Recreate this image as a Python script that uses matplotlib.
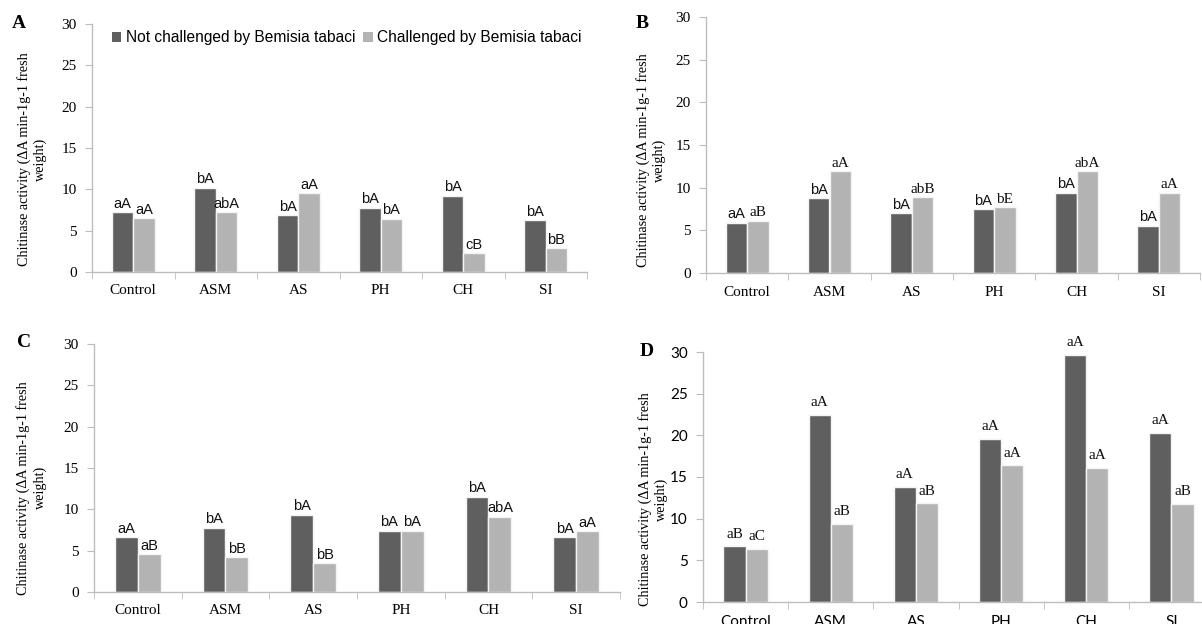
'''
Chitinase activity bar charts, four panels (A-D)
'''

import numpy as np
import matplotlib
matplotlib.use('Agg')
from matplotlib import pyplot as plt
from matplotlib.patches import Patch

# Treatments on the x axis
categories = ['Control', 'ASM', 'AS', 'PH', 'CH', 'SI']

# Panel A
aNot = [7.2, 10.2, 6.85, 7.8, 9.25, 6.3]
aChal = [6.5, 7.2, 9.55, 6.45, 2.3, 2.9]
aNotLabels = ['aA', 'bA', 'bA', 'bA', 'bA', 'bA']
aChalLabels = ['aA', 'abA', 'aA', 'bA', 'cB', 'bB']

# Panel B
bNot = [5.9, 8.75, 7.0, 7.5, 9.4, 5.55]
bChal = [6.15, 11.9, 8.9, 7.7, 11.9, 9.4]
bNotLabels = ['aA', 'bA', 'bA', 'bA', 'bA', 'bA']
bChalLabels = ['aB', 'aA', 'abB', 'bE', 'abA', 'aA']

# Panel C
cNot = [6.65, 7.8, 9.35, 7.4, 11.55, 6.6]
cChal = [4.6, 4.2, 3.45, 7.4, 9.1, 7.35]
cNotLabels = ['aA', 'bA', 'bA', 'bA', 'bA', 'bA']
cChalLabels = ['aB', 'bB', 'bB', 'bA', 'abA', 'aA']

# Panel D
dNot = [6.7, 22.5, 13.8, 19.6, 29.7, 20.3]
dChal = [6.4, 9.4, 11.85, 16.4, 16.1, 11.8]
dNotLabels = ['aB', 'aA', 'aA', 'aA', 'aA', 'aA']
dChalLabels = ['aC', 'aB', 'aB', 'aA', 'aA', 'aB']

yTicks = [0, 5, 10, 15, 20, 25, 30]
legendLabels = ['Not challenged by Bemisia tabaci', 'Challenged by Bemisia tabaci']

DARK = '#5f5f5f'
LIGHT = '#b3b3b3'
AXIS = '#bdbdbd'
SERIF = 'Liberation Serif'
SANS = 'Liberation Sans'
YLABEL = 'Chitinase activity (\u0394A min-1g-1 fresh\nweight)'


def drawPanel(ax, notVals, chalVals, notLabs, chalLabs, notFont, chalFont,
              tickFont, labOffset, labelX, labelY):
    x = np.arange(len(categories))
    w = 0.26
    ax.bar(x - w / 2, notVals, w, color=DARK, edgecolor='#f4f4f4', linewidth=1.0)
    ax.bar(x + w / 2, chalVals, w, color=LIGHT, edgecolor='#f4f4f4', linewidth=1.0)

    # letters of significance above each bar
    for i in range(len(categories)):
        size = 10.5 if notFont == SANS else 11
        ax.annotate(notLabs[i], (x[i] - w / 2, notVals[i]), xytext=(0, labOffset),
                    textcoords='offset points', ha='center', va='bottom',
                    family=notFont, fontsize=size, color='#111111')
        size = 10.5 if chalFont == SANS else 11
        ax.annotate(chalLabs[i], (x[i] + w / 2, chalVals[i]), xytext=(0, labOffset),
                    textcoords='offset points', ha='center', va='bottom',
                    family=chalFont, fontsize=size, color='#111111')

    ax.set_xlim(-0.5, len(categories) - 0.5)
    ax.set_ylim(0, 30)
    ax.set_yticks(yTicks)
    ax.set_xticks(x)
    ax.set_xticklabels(categories, family=tickFont, fontsize=11)
    ax.set_yticklabels([str(t) for t in yTicks], family=tickFont, fontsize=11)
    ax.set_xticks(np.arange(-0.5, len(categories) + 0.5, 1.0), minor=True)
    ax.tick_params(axis='x', which='major', length=0, pad=9)
    ax.tick_params(axis='x', which='minor', length=5, color=AXIS, direction='out')
    ax.tick_params(axis='y', length=5, color=AXIS, direction='out', pad=6)

    for side in ['top', 'right']:
        ax.spines[side].set_visible(False)
    for side in ['left', 'bottom']:
        ax.spines[side].set_color(AXIS)
        ax.spines[side].set_linewidth(1.0)

    ax.set_ylabel(YLABEL, family=SERIF, fontsize=10.2, linespacing=1.3)
    ax.yaxis.set_label_coords(labelX, labelY)


def main():
    W, H = 1202, 624
    fig = plt.figure(figsize=(W / 100, H / 100), dpi=100)
    fig.patch.set_facecolor('white')

    def box(left, top, right, bottom):
        return [left / W, 1 - bottom / H, (right - left) / W, (bottom - top) / H]

    axA = fig.add_axes(box(92, 24, 587, 272))
    axB = fig.add_axes(box(706, 17, 1200, 273))
    axC = fig.add_axes(box(94, 344, 620, 592))
    axD = fig.add_axes(box(703, 352, 1214, 602))

    drawPanel(axA, aNot, aChal, aNotLabels, aChalLabels, SANS, SANS, SERIF, 1, -0.09, 0.455)
    drawPanel(axB, bNot, bChal, bNotLabels, bChalLabels, SANS, SERIF, SERIF, 1, -0.08, 0.44)
    drawPanel(axC, cNot, cChal, cNotLabels, cChalLabels, SANS, SANS, SERIF, 1, -0.09, 0.42)
    drawPanel(axD, dNot, dChal, dNotLabels, dChalLabels, SERIF, SERIF, 'Lato', 4, -0.068, 0.41)

    # Legend only on panel A
    handles = [Patch(facecolor=DARK, edgecolor='none'), Patch(facecolor=LIGHT, edgecolor='none')]
    axA.legend(handles, legendLabels, loc='center right', bbox_to_anchor=(1.018, 0.945),
               ncol=2, frameon=False, handlelength=0.6, handleheight=0.6,
               handletextpad=0.3, columnspacing=0.5, prop={'family': SANS, 'size': 11.2})

    # Panel letters
    for letter, px, py in [('A', 19, 24), ('B', 642, 24), ('C', 24, 342), ('D', 647, 352)]:
        fig.text(px / W, 1 - py / H, letter, family=SERIF, fontsize=14, fontweight='bold',
                 ha='center', va='center')

    plt.savefig('out.png', dpi=100)


if __name__ == '__main__':
    main()
